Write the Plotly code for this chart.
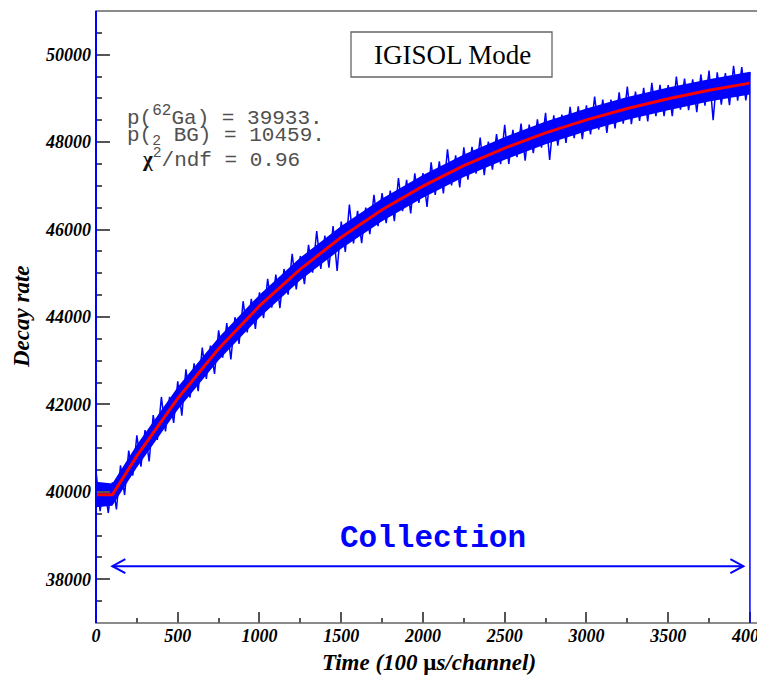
import plotly.graph_objects as go

# ---------------- data ----------------
# measured histogram, one reading every 25 channels
blue_x = list(range(0, 4001, 25))
blue_y = [
    40480, 39560, 40180, 39520, 40220, 39600, 40609, 39927, 40946, 40374,
    41292, 40574, 41415, 40697, 41758, 41190, 42171, 41383, 42174, 41576,
    42527, 41741, 42804, 42158, 42941, 42305, 43299, 42582, 43346, 42699,
    43693, 43071, 43859, 43027, 43995, 43383, 44361, 43649, 44417, 43725,
    44563, 43977, 44872, 44216, 44970, 44205, 45099, 44513, 45447, 44632,
    45396, 44749, 45652, 45015, 45968, 45101, 45863, 45126, 46079, 45052,
    46185, 45488, 46570, 45683, 46426, 45689, 46501, 45894, 46797, 46079,
    46832, 46146, 46890, 46194, 47178, 46423, 47137, 46371, 47285, 46609,
    47293, 46520, 47537, 46793, 47560, 46827, 47834, 47011, 47697, 46964,
    47881, 47141, 47892, 47282, 48102, 47243, 48013, 47373, 48183, 47494,
    48394, 47499, 48283, 47658, 48423, 47578, 48402, 47747, 48522, 47876,
    48671, 47591, 48611, 47921, 48631, 47981, 48810, 48090, 48820, 48070,
    48840, 48176, 49042, 48288, 48974, 48210, 48976, 48312, 49138, 48424,
    49270, 48412, 49155, 48487, 49240, 48472, 49354, 48597, 49309, 48592,
    49304, 48593, 49502, 48742, 49451, 48730, 49439, 48688, 49548, 48837,
    49636, 48502, 49599, 48855, 49582, 48848, 49744, 48951, 49717, 48954,
    49600,
]
assert len(blue_x) == len(blue_y)

# dense core of the measured band
band_x = [0, 100, 250, 500, 750, 1000, 1250, 1500, 1750, 2000,
          2250, 2500, 2750, 3000, 3250, 3500, 3750, 4000]
band_hi = [40230, 40190, 41080, 42400, 43530, 44510, 45360, 46080, 46710, 47250,
           47720, 48120, 48470, 48770, 49030, 49250, 49440, 49610]
band_lo = [39650, 39680, 40560, 41880, 43010, 43990, 44840, 45560, 46190, 46730,
           47200, 47600, 47950, 48250, 48510, 48730, 48930, 49090]

# fitted curve
fit_x = [0, 100, 250, 500, 750, 1000, 1250, 1500, 1750, 2000,
         2250, 2500, 2750, 3000, 3250, 3500, 3750, 4000]
fit_y = [39933, 39933, 40822, 42137, 43273, 44253, 45096, 45825, 46452, 46993,
         47461, 47864, 48211, 48510, 48770, 48994, 49186, 49350]

# collection arrow
arrow_x = [100, 3960]
arrow_y = 38300

x_range = [0, 4080]
y_range = [37000, 51000]

stats_lines = [
    'p(<sup><span style="font-size:16px">62</span></sup>Ga) = 39933.',
    "p(<sub>2</sub> BG) = 10459.",
    '<span style="font-family:Liberation Serif;font-weight:bold;color:#111">χ</span><sup>2</sup>/ndf = 0.96',
]

BLUE = "#0000ff"
RED = "#ff0000"
TICKC = "#555555"

# page body has an 8 px margin: figure is shrunk so the plot lands where it should
W, H = 757, 668
ML, MR, MT, MB = 88, 2, 3, 53
PW, PH = W - ML - MR, H - MT - MB


def px_x(px):   # window pixel -> paper x
    return (px - 8 - ML) / PW


def px_y(py):   # window pixel -> paper y
    return (H - MB - (py - 8)) / PH


fig = go.Figure()

# core band
fig.add_trace(go.Scatter(x=band_x, y=band_lo, mode="lines", line=dict(width=0, color=BLUE),
                         hoverinfo="skip", showlegend=False))
fig.add_trace(go.Scatter(x=band_x, y=band_hi, mode="lines", line=dict(width=0, color=BLUE),
                         fill="tonexty", fillcolor=BLUE, hoverinfo="skip", showlegend=False))
# histogram trace
fig.add_trace(go.Scatter(x=blue_x, y=blue_y, mode="lines", line=dict(width=1.5, color=BLUE),
                         showlegend=False))
# fit
fig.add_trace(go.Scatter(x=fit_x, y=fit_y, mode="lines", line=dict(width=3, color=RED),
                         showlegend=False))

tickfont = dict(family="Liberation Serif", size=18, color="black", weight="bold", style="italic")

fig.update_xaxes(range=x_range, tick0=0, dtick=500, ticks="inside", ticklen=11, tickwidth=1.5,
                 tickcolor=TICKC, showgrid=False, zeroline=False, showline=False,
                 tickfont=tickfont, tickformat="d", automargin=False, ticklabeloverflow="allow",
                 minor=dict(dtick=250, ticks="inside", ticklen=5, tickwidth=1.5, tickcolor=TICKC,
                            showgrid=False))
fig.update_yaxes(range=y_range, tick0=0, dtick=2000, ticks="inside", ticklen=14, tickwidth=1.5,
                 tickcolor=TICKC, showgrid=False, zeroline=False, showline=False,
                 tickfont=tickfont, tickformat="d", ticklabelstandoff=4, automargin=False,
                 ticklabeloverflow="allow",
                 minor=dict(dtick=500, ticks="inside", ticklen=6, tickwidth=1.5, tickcolor=TICKC,
                            showgrid=False))

shapes = [
    # frame
    dict(type="rect", xref="paper", yref="paper", x0=0, x1=1, y0=0, y1=1,
         line=dict(color="#666666", width=1.5), layer="above"),
    # left histogram edge
    dict(type="line", xref="paper", yref="paper", x0=0, x1=0, y0=0, y1=1,
         line=dict(color=BLUE, width=2), layer="above"),
    # histogram drop at the last channel
    dict(type="line", xref="x", yref="y", x0=blue_x[-1], x1=blue_x[-1],
         y0=y_range[0], y1=blue_y[-1], line=dict(color=BLUE, width=1.5)),
    # collection arrow shaft
    dict(type="line", xref="x", yref="y", x0=arrow_x[0], x1=arrow_x[1], y0=arrow_y, y1=arrow_y,
         line=dict(color=BLUE, width=2)),
    # arrow heads (open chevrons)
    dict(type="path", xref="x", yref="y", xsizemode="pixel", ysizemode="pixel",
         xanchor=arrow_x[0], yanchor=arrow_y, path="M 13 7 L 0 0 L 13 -7",
         line=dict(color=BLUE, width=2)),
    dict(type="path", xref="x", yref="y", xsizemode="pixel", ysizemode="pixel",
         xanchor=arrow_x[1], yanchor=arrow_y, path="M -13 7 L 0 0 L -13 -7",
         line=dict(color=BLUE, width=2)),
    # IGISOL Mode box
    dict(type="rect", xref="paper", yref="paper", x0=px_x(351), x1=px_x(552), y0=px_y(77), y1=px_y(32),
         line=dict(color="#666666", width=1.3), fillcolor="white", layer="above"),
]
fig.update_layout(shapes=shapes)

annotations = [
    dict(text="IGISOL Mode", xref="paper", yref="paper", x=px_x(452), y=px_y(55), showarrow=False,
         xanchor="center", yanchor="middle",
         font=dict(family="Liberation Serif", size=27, color="black")),
    dict(text="Collection", xref="paper", yref="paper", x=px_x(433), y=px_y(538), showarrow=False,
         xanchor="center", yanchor="middle",
         font=dict(family="Liberation Mono", size=31, color=BLUE, weight="bold")),
    dict(text='Time (100 <span style="font-style:normal">μ</span>s/channel)', xref="paper", yref="paper",
         x=px_x(429), y=px_y(662),
         showarrow=False, xanchor="center", yanchor="middle",
         font=dict(family="Liberation Serif", size=23, color="black", weight="bold", style="italic")),
    dict(text="Decay rate", xref="paper", yref="paper", x=px_x(21), y=px_y(317),
         showarrow=False, xanchor="center", yanchor="middle", textangle=-90,
         font=dict(family="Liberation Serif", size=23, color="black", weight="bold", style="italic")),
]
stat_pos = [(125, 116), (125, 136), (140, 158)]
for txt, (px, py) in zip(stats_lines, stat_pos):
    annotations.append(dict(text=txt, xref="paper", yref="paper", x=px_x(px), y=px_y(py),
                            showarrow=False, xanchor="left", yanchor="middle",
                            font=dict(family="Liberation Mono", size=21, color="#505050")))
fig.update_layout(annotations=annotations)

fig.update_layout(width=W, height=H, margin=dict(l=ML, r=MR, t=MT, b=MB, autoexpand=False),
                  paper_bgcolor="white", plot_bgcolor="white", showlegend=False)

fig.write_html("out.html")
